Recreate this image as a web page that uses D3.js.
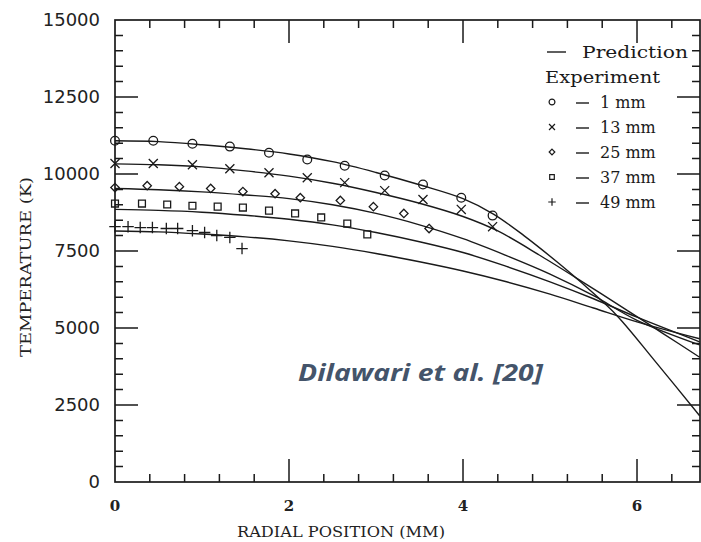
<!DOCTYPE html>
<html>
<head>
<meta charset="utf-8">
<script src="https://cdn.jsdelivr.net/npm/d3@7"></script>
<style>
  body { margin: 0; background: #fff; }
  svg { display: block; }
</style>
</head>
<body>
<svg width="701" height="542"></svg>
<script>
// данные: радиальная позиция (мм) и температура (K)
const series = ["1 mm", "13 mm", "25 mm", "37 mm", "49 mm"];

// расчётные кривые (Prediction)
const pred1 = [[0,11080],[0.5,11050],[1,10950],[1.5,10820],[2,10650],[2.5,10400],[3,10050],[3.5,9650],[4,9200],[4.35,8700],[4.7,8000],[5.1,7100],[5.45,6250],[5.77,5400],[6.2,3950],[6.72,2150]];
const pred13 = [[0,10330],[0.5,10300],[1,10230],[1.5,10100],[2,9930],[2.5,9700],[3,9400],[3.5,9050],[4,8620],[4.4,8150],[4.9,7330],[5.4,6450],[5.9,5550],[6.3,4820],[6.72,4050]];
const pred25 = [[0,9530],[0.5,9490],[1,9420],[1.5,9320],[2,9200],[2.5,9000],[3,8720],[3.5,8350],[4,7900],[4.5,7350],[5,6750],[5.5,6050],[6,5250],[6.72,4450]];
const pred37 = [[0,8850],[0.5,8820],[1,8760],[1.5,8660],[2,8530],[2.5,8350],[3,8100],[3.5,7800],[4,7450],[4.5,7000],[5,6500],[5.5,5950],[6,5350],[6.72,4550]];
const pred49 = [[0,8150],[0.5,8120],[1,8050],[1.5,7960],[2,7830],[2.5,7650],[3,7420],[3.5,7150],[4,6850],[4.5,6500],[5,6100],[5.5,5650],[6,5200],[6.72,4650]];

// эксперимент
const exp1 = [[0,11080],[0.44,11080],[0.89,10980],[1.32,10890],[1.77,10690],[2.21,10470],[2.64,10270],[3.10,9950],[3.54,9660],[3.98,9230],[4.34,8650]];
const exp13 = [[0,10340],[0.44,10340],[0.89,10300],[1.32,10170],[1.77,10040],[2.21,9880],[2.64,9720],[3.10,9460],[3.54,9170],[3.98,8850],[4.34,8290]];
const exp25 = [[0,9560],[0.37,9620],[0.74,9590],[1.10,9530],[1.47,9430],[1.84,9360],[2.13,9230],[2.59,9140],[2.97,8940],[3.32,8720],[3.61,8230]];
const exp37 = [[0,9040],[0.31,9040],[0.60,9010],[0.89,8970],[1.18,8940],[1.47,8910],[1.77,8810],[2.07,8720],[2.37,8590],[2.67,8390],[2.90,8040]];
const exp49 = [[0,8290],[0.15,8290],[0.29,8260],[0.43,8260],[0.59,8230],[0.72,8230],[0.89,8160],[1.03,8100],[1.17,8000],[1.32,7940],[1.46,7580]];

const xMajor = [0, 2, 4, 6];
const yMajor = [0, 2500, 5000, 7500, 10000, 12500, 15000];

const svg = d3.select("svg");
const mLeft = 115, mRight = 700, mTop = 20, mBottom = 482;
const ink = "#1a1a1a";

const x = d3.scaleLinear().domain([0, 6.724]).range([mLeft, mRight]);
const y = d3.scaleLinear().domain([0, 15000]).range([mBottom, mTop]);

const xMinor = d3.range(0.4, 6.72, 0.4).filter(v => Math.abs(v / 2 - Math.round(v / 2)) > 0.01);
const yMinor = d3.range(500, 15000, 500).filter(v => v % 2500 !== 0);

// рамка
svg.append("rect")
    .attr("x", x(0)).attr("y", y(15000))
    .attr("width", x(6.724) - x(0)).attr("height", y(0) - y(15000))
    .attr("fill", "none").attr("stroke", ink).attr("stroke-width", 1.7);

// деления внутрь рамки со всех четырёх сторон (одним путём)
const xTicks = xMajor.filter(d => d > 0).map(d => ({ v: d, len: 23 }))
    .concat(xMinor.map(d => ({ v: d, len: 8 })));
const yTicks = yMajor.filter(d => d > 0 && d < 15000).map(d => ({ v: d, len: 23 }))
    .concat(yMinor.map(d => ({ v: d, len: 8 })));

const tickPath = d3.path();
xTicks.forEach(t => {
    tickPath.moveTo(x(t.v), mBottom); tickPath.lineTo(x(t.v), mBottom - t.len);
    tickPath.moveTo(x(t.v), mTop); tickPath.lineTo(x(t.v), mTop + t.len);
});
yTicks.forEach(t => {
    tickPath.moveTo(mLeft, y(t.v)); tickPath.lineTo(mLeft + t.len, y(t.v));
    tickPath.moveTo(mRight, y(t.v)); tickPath.lineTo(mRight - t.len, y(t.v));
});
svg.append("path")
    .attr("d", tickPath.toString())
    .attr("fill", "none")
    .attr("stroke", ink)
    .attr("stroke-width", 1.5);

// подписи делений
svg.selectAll(".ylab").data(yMajor).join("text")
    .attr("class", "ylab")
    .attr("x", mLeft - 15).attr("y", d => y(d)).attr("dy", "0.36em")
    .attr("text-anchor", "end")
    .style("font", "18px 'DejaVu Sans'").attr("fill", "#222")
    .text(d => d);
svg.selectAll(".xlab").data(xMajor).join("text")
    .attr("class", "xlab")
    .attr("x", d => x(d)).attr("y", 511)
    .attr("text-anchor", "middle")
    .style("font", "bold 15px 'DejaVu Serif'").attr("fill", "#222")
    .text(d => d);

// названия осей
svg.append("text").attr("x", 341).attr("y", 537).attr("text-anchor", "middle")
    .attr("textLength", 208).attr("lengthAdjust", "spacingAndGlyphs")
    .style("font", "15px 'DejaVu Serif'").attr("fill", "#222")
    .text("RADIAL POSITION (MM)");
svg.append("text").attr("transform", "translate(31,267) rotate(-90)").attr("text-anchor", "middle")
    .attr("textLength", 180).attr("lengthAdjust", "spacingAndGlyphs")
    .style("font", "15px 'DejaVu Serif'").attr("fill", "#222")
    .text("TEMPERATURE (K)");

// расчётные кривые
const line = d3.line()
    .x(d => x(d[0]))
    .y(d => y(d[1]))
    .curve(d3.curveCatmullRom.alpha(0.5));

const plot = svg.append("g");
[pred1, pred13, pred25, pred37, pred49].forEach(p => {
    plot.append("path")
        .attr("d", line(p))
        .attr("fill", "none")
        .attr("stroke", ink)
        .attr("stroke-width", 1.4);
});

// экспериментальные точки
const markers = [
    { data: exp1, type: d3.symbolCircle, size: 60 },
    { data: exp13, type: d3.symbolTimes, size: 55 },
    { data: exp25, type: d3.symbolDiamond2, size: 45 },
    { data: exp37, type: d3.symbolSquare2, size: 60 },
    { data: exp49, type: d3.symbolPlus, size: 45 }
];

markers.forEach(m => {
    plot.selectAll(null).data(m.data).join("path")
        .attr("transform", d => `translate(${x(d[0])},${y(d[1])})`)
        .attr("d", d3.symbol(m.type, m.size))
        .attr("fill", "none")
        .attr("stroke", ink)
        .attr("stroke-width", 1.3);
});

// легенда
const leg = svg.append("g").style("font", "16px 'DejaVu Serif'").attr("fill", "#1a1a1a");
leg.append("line").attr("x1", 547).attr("x2", 566).attr("y1", 52).attr("y2", 52)
    .attr("stroke", ink).attr("stroke-width", 1.4);
leg.append("text").attr("x", 582).attr("y", 58).text("Prediction")
    .attr("textLength", 106).attr("lengthAdjust", "spacingAndGlyphs");
leg.append("text").attr("x", 545).attr("y", 83).text("Experiment")
    .attr("textLength", 115).attr("lengthAdjust", "spacingAndGlyphs");

markers.forEach((m, i) => {
    const cy = 102 + i * 25;
    leg.append("path")
        .attr("transform", `translate(552,${cy})`)
        .attr("d", d3.symbol(m.type, m.size * 0.45))
        .attr("fill", "none").attr("stroke", ink).attr("stroke-width", 1.2);
    leg.append("line").attr("x1", 576).attr("x2", 589).attr("y1", cy + 1).attr("y2", cy + 1)
        .attr("stroke", ink).attr("stroke-width", 1.4);
    leg.append("text").attr("x", 600).attr("y", cy + 6).text(series[i]);
});

// подпись источника
svg.append("text").attr("x", 298).attr("y", 381)
    .attr("textLength", 245).attr("lengthAdjust", "spacingAndGlyphs")
    .style("font", "italic bold 23px 'Open Sans'")
    .attr("fill", "#44546A")
    .text("Dilawari et al. [20]");
</script>
</body>
</html>
